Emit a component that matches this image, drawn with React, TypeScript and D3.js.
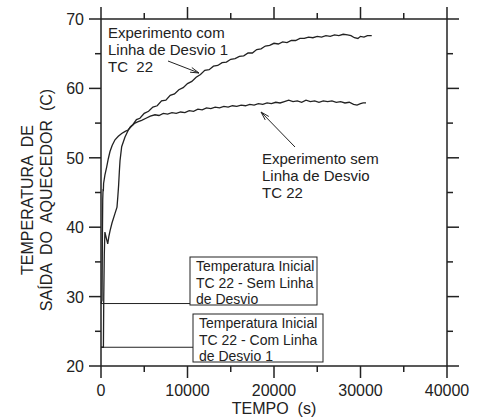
import * as d3 from "d3";

// Heater outlet temperature, TC 22 (time s, temperature C)
const comLinha: [number, number][] = [
  [0, 22.7], [280, 22.7], [320, 30], [380, 36], [450, 39.3], [580, 38.6], [780, 37.6],
  [900, 38.6], [1050, 39.5], [1270, 40.6], [1620, 42.0], [1850, 42.9], [1950, 44.5],
  [2040, 46.1], [2120, 48.0], [2200, 49.6], [2390, 51.6], [2775, 53.0], [3120, 53.9],
  [3400, 54.5], [3700, 54.8], [4100, 55.5], [4500, 55.7], [5000, 56.4], [5500, 56.7],
  [6000, 57.3], [6500, 57.5], [7000, 58.2], [7500, 58.3], [8000, 59.0], [8500, 59.2],
  [9000, 59.8], [9500, 60.1], [10000, 60.7], [10500, 61.0], [11000, 61.6], [11500, 62.0],
  [12000, 62.6], [12500, 62.7], [13000, 63.2], [13500, 63.3], [14000, 63.7], [14500, 63.8],
  [15000, 64.2], [15500, 64.3], [16000, 64.6], [16500, 64.7], [17000, 65.1], [17500, 65.1],
  [18000, 65.6], [18500, 65.7], [19000, 66.1], [19500, 66.2], [20000, 66.5], [20500, 66.4],
  [21000, 66.7], [21500, 66.6], [22000, 66.9], [22500, 66.9], [23000, 67.2], [23500, 67.2],
  [24000, 67.4], [24500, 67.3], [25000, 67.5], [25500, 67.4], [26000, 67.6], [26500, 67.5],
  [27000, 67.7], [27500, 67.6], [28000, 67.8], [28500, 67.7], [28900, 67.6], [29300, 67.3],
  [29700, 67.2], [30000, 67.5], [30400, 67.4], [30800, 67.6], [31300, 67.6],
];

const semLinha: [number, number][] = [
  [0, 29.0], [120, 29.5], [160, 38], [200, 44], [240, 45.5], [270, 45.2], [300, 46.3],
  [450, 47.5], [660, 48.7], [850, 49.9], [1040, 50.9], [1300, 51.8], [1620, 52.6],
  [2000, 53.1], [2390, 53.5], [2800, 53.8], [3120, 54.0], [3500, 54.5], [3930, 55.0],
  [4300, 55.2], [4700, 55.4], [5200, 55.7], [5700, 56.0], [6240, 56.2], [6700, 56.1],
  [7200, 56.4], [7700, 56.3], [8200, 56.5], [8700, 56.4], [9200, 56.6], [9700, 56.5],
  [10200, 56.8], [10700, 56.7], [11200, 57.0], [11700, 56.9], [12200, 57.2], [12700, 57.1],
  [13200, 57.3], [13700, 57.2], [14200, 57.4], [14700, 57.3], [15200, 57.5], [15700, 57.4],
  [16200, 57.6], [16700, 57.5], [17200, 57.7], [17700, 57.6], [18200, 57.8], [18700, 57.7],
  [19200, 57.9], [19700, 57.8], [20200, 58.0], [20700, 57.9], [21200, 58.1], [21700, 58.3],
  [22200, 58.1], [22700, 58.2], [23200, 58.0], [23700, 58.3], [24200, 58.1], [24700, 58.2],
  [25200, 58.0], [25700, 58.2], [26200, 58.1], [26700, 58.2], [27200, 58.0], [27700, 58.1],
  [28200, 57.9], [28700, 58.0], [29200, 57.7], [29600, 57.6], [30000, 57.8], [30300, 57.9],
  [30640, 57.9],
];

const initialTemps = { sem: 29.0, com: 22.7 };

const xTicks = [0, 10000, 20000, 30000, 40000];
const xMinorTicks = [5000, 15000, 25000, 35000];
const yTicks = [20, 30, 40, 50, 60, 70];
const yMinorTicks = [25, 35, 45, 55, 65];

const boxSem = ["Temperatura Inicial", "TC 22 - Sem Linha", "de Desvio"];
const boxCom = ["Temperatura Inicial", "TC 22 - Com Linha", "de Desvio 1"];
const labelCom = ["Experimento com", "Linha de Desvio 1", "TC  22"];
const labelSem = ["Experimento sem", "Linha de Desvio", "TC 22"];

const W = 481;
const H = 419;
const FONT = "Liberation Sans, Arial, sans-serif";
const INK = "#222";

export default function App() {
  const x = d3.scaleLinear().domain([0, 40000]).range([101, 447]);
  const y = d3.scaleLinear().domain([20, 70]).range([366, 19]);
  const [x0, x1] = x.range();
  const [y0, y1] = y.range();

  const line = d3
    .line<[number, number]>()
    .x((d) => x(d[0]))
    .y((d) => y(d[1]));

  const major = 12;
  const minor = 6;

  // open narrow arrowhead at the tip of a pointer line
  const pointer = (fx: number, fy: number, tx: number, ty: number) => {
    const a = Math.atan2(ty - fy, tx - fx);
    const L = 9;
    const s = 0.28;
    const p1 = [tx - L * Math.cos(a - s), ty - L * Math.sin(a - s)];
    const p2 = [tx - L * Math.cos(a + s), ty - L * Math.sin(a + s)];
    return (
      <g stroke={INK} strokeWidth={1} fill="none">
        <line x1={fx} y1={fy} x2={tx} y2={ty} />
        <polyline points={`${p1[0]},${p1[1]} ${tx},${ty} ${p2[0]},${p2[1]}`} />
      </g>
    );
  };

  const box = (lines: string[], bx: number, by: number, bw: number, bh: number) => (
    <g>
      <rect x={bx} y={by} width={bw} height={bh} fill="white" stroke={INK} strokeWidth={1} />
      {lines.map((t, i) => (
        <text key={i} x={bx + 6} y={by + 14 + i * 16.5} fontSize={14} fill={INK}>
          {t}
        </text>
      ))}
    </g>
  );

  return (
    <svg
      width={W}
      height={H}
      style={{ position: "absolute", left: 0, top: 0, background: "white" }}
      fontFamily={FONT}
    >
      <rect width={W} height={H} fill="white" />

      {/* frame */}
      <g stroke={INK} strokeWidth={1.5} fill="none">
        <line x1={x0} y1={y0} x2={x1} y2={y0} />
        <line x1={x0} y1={y1} x2={x1} y2={y1} />
        <line x1={x0} y1={y0} x2={x0} y2={y1} />
        <line x1={x1} y1={y0} x2={x1} y2={y1} />

        {xTicks.map((t) => (
          <g key={"xt" + t}>
            <line x1={x(t)} x2={x(t)} y1={y0} y2={y0 + major} />
            <line x1={x(t)} x2={x(t)} y1={y1} y2={y1 - major} />
          </g>
        ))}
        {xMinorTicks.map((t) => (
          <g key={"xm" + t}>
            <line x1={x(t)} x2={x(t)} y1={y0} y2={y0 + minor} />
            <line x1={x(t)} x2={x(t)} y1={y1} y2={y1 - minor} />
          </g>
        ))}
        {yTicks.map((t) => (
          <g key={"yt" + t}>
            <line x1={x0} x2={x0 - major} y1={y(t)} y2={y(t)} />
            <line x1={x1} x2={x1 + major} y1={y(t)} y2={y(t)} />
          </g>
        ))}
        {yMinorTicks.map((t) => (
          <g key={"ym" + t}>
            <line x1={x0} x2={x0 - minor} y1={y(t)} y2={y(t)} />
            <line x1={x1} x2={x1 + minor} y1={y(t)} y2={y(t)} />
          </g>
        ))}
      </g>

      {/* tick labels */}
      {xTicks.map((t) => (
        <text key={"xl" + t} x={x(t)} y={396} fontSize={16} textAnchor="middle" fill={INK}>
          {t}
        </text>
      ))}
      {yTicks.map((t) => (
        <text key={"yl" + t} x={84} y={y(t) + 6} fontSize={16} textAnchor="end" fill={INK}>
          {t}
        </text>
      ))}

      {/* axis titles */}
      <text x={274} y={414} fontSize={16} textAnchor="middle" fill={INK} xmlSpace="preserve">
        TEMPO  (s)
      </text>
      <g transform="translate(33,200) rotate(-90)">
        <text x={0} y={0} fontSize={16} textAnchor="middle" fill={INK} xmlSpace="preserve">
          TEMPERATURA  DE
        </text>
      </g>
      <g transform="translate(52,200) rotate(-90)">
        <text x={0} y={0} fontSize={16} textAnchor="middle" fill={INK} xmlSpace="preserve">
          SAÍDA  DO  AQUECEDOR  (C)
        </text>
      </g>

      {/* initial temperature reference lines */}
      <line x1={x0} x2={190} y1={y(initialTemps.sem)} y2={y(initialTemps.sem)} stroke={INK} strokeWidth={1} />
      <line x1={x0} x2={193} y1={y(initialTemps.com)} y2={y(initialTemps.com)} stroke={INK} strokeWidth={1} />

      {/* series */}
      <path d={line(semLinha) ?? ""} fill="none" stroke={INK} strokeWidth={1.3} />
      <path d={line(comLinha) ?? ""} fill="none" stroke={INK} strokeWidth={1.3} />

      {/* boxes */}
      {box(boxSem, 190, 257, 127, 48)}
      {box(boxCom, 193, 314, 130, 48)}

      {/* curve annotations */}
      {labelCom.map((t, i) => (
        <text key={"lc" + i} x={108} y={38 + i * 17} fontSize={15} fill={INK} xmlSpace="preserve">
          {t}
        </text>
      ))}
      {pointer(168, 61, 199, 73)}
      {labelSem.map((t, i) => (
        <text key={"ls" + i} x={262} y={164 + i * 17} fontSize={15} fill={INK} xmlSpace="preserve">
          {t}
        </text>
      ))}
      {pointer(295, 147, 261, 112)}
    </svg>
  );
}
